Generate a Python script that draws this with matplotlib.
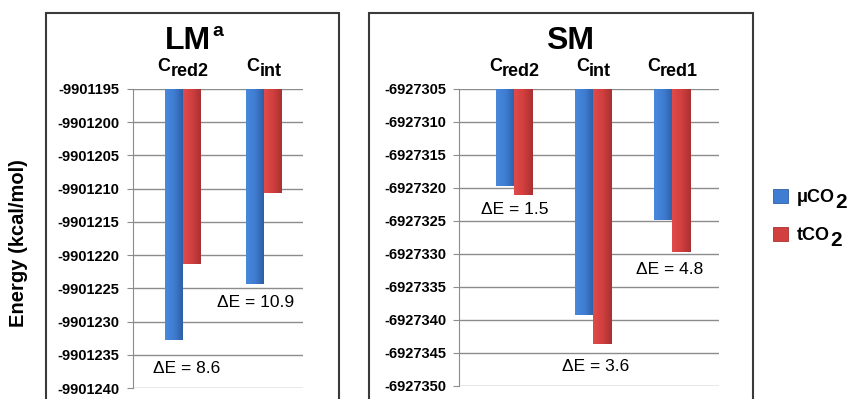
import numpy as np
import matplotlib
matplotlib.use("Agg")
import matplotlib.pyplot as plt
from matplotlib.patches import Rectangle
from matplotlib.colors import LinearSegmentedColormap

plt.rcParams["font.family"] = ["Liberation Sans", "DejaVu Sans"]

# energies in kcal/mol
lm_states = [("C", "red2"), ("C", "int")]
lm_mu = [-9901232.8, -9901224.3]
lm_t = [-9901221.4, -9901210.6]
lm_ticks = [-9901195, -9901200, -9901205, -9901210, -9901215,
            -9901220, -9901225, -9901230, -9901235, -9901240]
lm_notes = ["\u0394E = 8.6", "\u0394E = 10.9"]
lm_note_pos = [(0.04, -9901237.0), (0.9, -9901227.2)]

sm_states = [("C", "red2"), ("C", "int"), ("C", "red1")]
sm_mu = [-6927319.7, -6927339.3, -6927324.8]
sm_t = [-6927321.1, -6927343.6, -6927329.7]
sm_ticks = [-6927305, -6927310, -6927315, -6927320, -6927325,
            -6927330, -6927335, -6927340, -6927345, -6927350]
sm_notes = ["\u0394E = 1.5", "\u0394E = 3.6", "\u0394E = 4.8"]
sm_note_pos = [(0.0, -6927323.2), (1.03, -6927347.1), (1.97, -6927332.3)]

series_names = [("\u03bcCO", "2"), ("tCO", "2")]
BLUE = ("#4a88dc", "#3f7dd2", "#2e5fa4")
RED = ("#e04a4a", "#d23f3f", "#a83131")

W, H = 861, 399
fig = plt.figure(figsize=(W / 100, H / 100), dpi=100)


def fx(px):
    return px / W


def fy(py):
    return 1 - py / H


def shaded_bars(ax, xs, tops, vals, width, shades):
    cmap = LinearSegmentedColormap.from_list("shade", shades)
    grad = np.linspace(0, 1, 64)[None, :]
    bars = ax.bar(xs, np.array(vals) - tops, bottom=tops, width=width,
                  color=shades[1], edgecolor="none", zorder=3)
    for b in bars:
        x0, y0 = b.get_x(), b.get_y()
        im = ax.imshow(grad, cmap=cmap, aspect="auto", zorder=3.5,
                       extent=(x0, x0 + b.get_width(), y0 + b.get_height(), y0))
        im.set_clip_path(b)
    return bars


def split_label(x, y, main, sub, size, drop, transform, **kw):
    # main letter plus a same-size lowered subscript, centred on x
    r = fig.canvas.get_renderer()
    t1 = fig.text(0, 0, main, fontsize=size, fontweight="bold", **kw)
    t2 = fig.text(0, 0, sub, fontsize=size, fontweight="bold", **kw)
    w1 = t1.get_window_extent(r).width
    w2 = t2.get_window_extent(r).width
    px, py = transform.transform((x, y))
    left = px - (w1 + w2) / 2
    inv = fig.transFigure.inverted()
    t1.set_position(inv.transform((left, py)))
    t2.set_position(inv.transform((left + w1, py - drop)))
    for t in (t1, t2):
        t.set_va("baseline")
        t.set_ha("left")


def panel(rect, states, mu, t, ticks, notes, note_pos, xlim, width, pad):
    ax = fig.add_axes(rect)
    top, bottom = ticks[0], ticks[-1]
    xs = np.arange(len(states))
    shaded_bars(ax, xs - width / 2, top, mu, width, BLUE)
    shaded_bars(ax, xs + width / 2, top, t, width, RED)
    ax.set_xlim(*xlim)
    ax.set_ylim(bottom, top)
    ax.set_yticks(ticks)
    ax.set_yticklabels([str(v) for v in ticks], fontsize=10.5, fontweight="bold")
    ax.set_xticks([])
    ax.grid(axis="y", color="#8c8c8c", linewidth=1.0, zorder=0)
    ax.set_axisbelow(True)
    for side in ("top", "right", "bottom"):
        ax.spines[side].set_visible(False)
    ax.spines["left"].set_color("#8c8c8c")
    ax.tick_params(axis="y", length=4, color="#8c8c8c", pad=pad)
    for (x, y), s in zip(note_pos, notes):
        ax.text(x, y, s, ha="center", va="center", fontsize=12.5, zorder=5)
    for x, (main, sub) in zip(xs, states):
        split_label(x, top, main, sub, 13, 5,
                    ax.transData + matplotlib.transforms.ScaledTranslation(0, 13 / 72, fig.dpi_scale_trans))
    return ax


# panel frames
for x0, x1 in ((46, 339), (369, 753)):
    fig.patches.append(Rectangle((fx(x0), -0.1), fx(x1) - fx(x0), fy(13) + 0.1,
                                 transform=fig.transFigure, fill=False,
                                 edgecolor="#3a3a3a", linewidth=1.5))

panel([fx(133), fy(388), fx(303) - fx(133), fy(89) - fy(388)],
      lm_states, lm_mu, lm_t, lm_ticks, lm_notes, lm_note_pos,
      (-0.62, 1.48), 0.22, 6)
panel([fx(459), fy(386), fx(719) - fx(459), fy(89) - fy(386)],
      sm_states, sm_mu, sm_t, sm_ticks, sm_notes, sm_note_pos,
      (-0.70, 2.59), 0.235, 5)

# panel titles
fig.text(fx(188), fy(49), "LM", fontsize=23, fontweight="bold", ha="center", va="baseline")
fig.text(fx(212), fy(36), "a", fontsize=14, fontweight="bold", ha="left", va="baseline")
fig.text(fx(570), fy(49), "SM", fontsize=23, fontweight="bold", ha="center", va="baseline")

fig.text(fx(19), fy(243), "Energy (kcal/mol)", fontsize=14.5, fontweight="bold",
         rotation=90, ha="center", va="center")

# legend
for (name, sub), shades, ly in zip(series_names, (BLUE, RED), (196, 234)):
    fig.patches.append(Rectangle((fx(773), fy(ly + 7)), fx(15), 14 / H,
                                 transform=fig.transFigure, facecolor=shades[1],
                                 edgecolor=shades[2], linewidth=0.6))
    fig.text(fx(797), fy(ly + 6), name, fontsize=13, fontweight="bold", va="baseline")
    r = fig.canvas.get_renderer()
    w = fig.texts[-1].get_window_extent(r).width
    fig.text(fx(797) + w / W, fy(ly + 12), sub, fontsize=15, fontweight="bold", va="baseline")

fig.savefig("out.png", dpi=100)
